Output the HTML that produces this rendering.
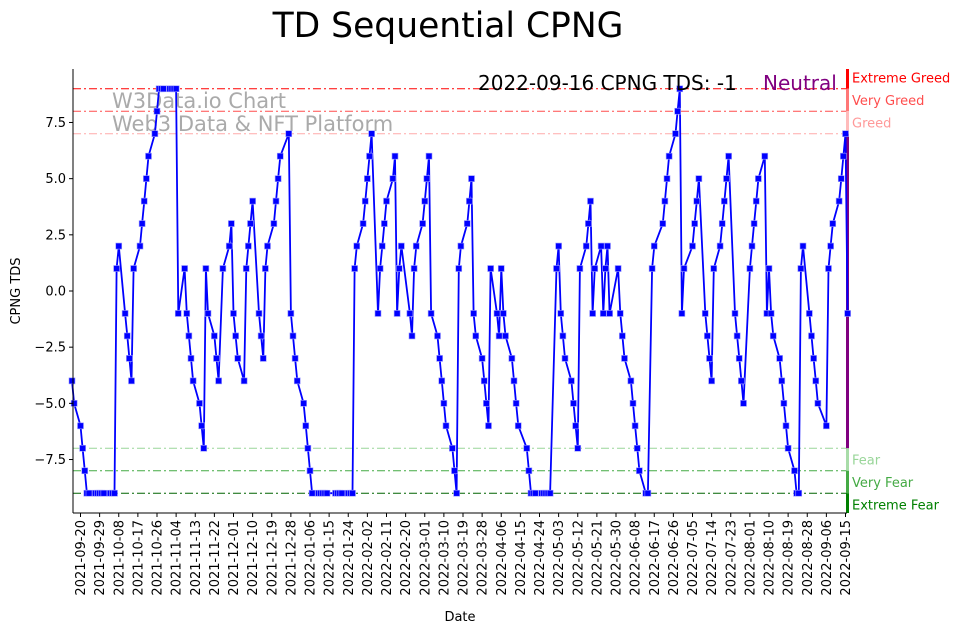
<!DOCTYPE html>
<html><head><meta charset="utf-8"><title>TD Sequential CPNG</title>
<style>
html,body{margin:0;padding:0;background:#fff;}
svg{display:block;font-family:"DejaVu Sans","Liberation Sans",sans-serif;}
</style></head>
<body>
<svg id="chart" width="967" height="633" viewBox="0 0 967 633" xmlns="http://www.w3.org/2000/svg">
<rect width="967" height="633" fill="#fff"/>
<text x="448" y="37" font-size="34.5" text-anchor="middle" fill="#000">TD Sequential CPNG</text>
<g id="grid"></g>
<text x="112" y="108" font-size="21" fill="#aaaaaa">W3Data.io Chart</text>
<text x="112" y="131" font-size="21" fill="#aaaaaa">Web3 Data &amp; NFT Platform</text>
<g id="series"></g>
<g id="axes"></g>
<text x="478" y="90" font-size="20" fill="#000">2022-09-16 CPNG TDS: -1</text>
<text x="763" y="90" font-size="20" fill="#800080">Neutral</text>
<text x="20" y="291" font-size="13" text-anchor="middle" transform="rotate(-90 20 291)">CPNG TDS</text>
<text x="460" y="621" font-size="13" text-anchor="middle">Date</text>
</svg>
<script>
// day offsets since 2021-09-20
const days = [-4,-3,0,1,2,3,4,7,8,9,10,11,14,15,16,17,18,
21,22,23,24,25,28,29,30,31,32,35,36,37,38,39,42,43,44,45,46,
49,50,51,52,53,56,57,58,59,60,63,64,65,67,70,71,72,73,74,
77,78,79,80,81,84,85,86,87,88,91,92,93,94,98,99,100,101,102,
105,106,107,108,109,112,113,114,115,116,120,121,122,123,126,127,128,129,130,
133,134,135,136,137,140,141,142,143,144,147,148,149,150,151,155,156,157,158,
161,162,163,164,165,168,169,170,171,172,175,176,177,178,179,182,183,184,185,186,
189,190,191,192,193,196,197,198,199,200,203,204,205,206,210,211,212,213,214,
217,218,219,220,221,224,225,226,227,228,231,232,233,234,235,238,239,240,241,242,
245,246,247,248,249,253,254,255,256,259,260,261,262,263,266,267,269,270,
274,275,276,277,280,281,282,283,284,288,289,290,291,294,295,296,297,298,
301,302,303,304,305,308,309,310,311,312,315,316,317,318,319,322,323,324,325,326,
329,330,331,332,333,336,337,338,339,340,343,344,345,346,347,351,352,353,354,
357,358,359,360,361];
const tdsValues = [-4,-5,-6,-7,-8,-9,-9,-9,-9,-9,-9,-9,-9,-9,-9,1,2,
-1,-2,-3,-4,1,2,3,4,5,6,7,8,9,9,9,9,9,9,9,-1,
1,-1,-2,-3,-4,-5,-6,-7,1,-1,-2,-3,-4,1,2,3,-1,-2,-3,
-4,1,2,3,4,-1,-2,-3,1,2,3,4,5,6,7,-1,-2,-3,-4,
-5,-6,-7,-8,-9,-9,-9,-9,-9,-9,-9,-9,-9,-9,-9,-9,-9,1,2,
3,4,5,6,7,-1,1,2,3,4,5,6,-1,1,2,-1,-2,1,2,
3,4,5,6,-1,-2,-3,-4,-5,-6,-7,-8,-9,1,2,3,4,5,-1,-2,
-3,-4,-5,-6,1,-1,-2,1,-1,-2,-3,-4,-5,-6,-7,-8,-9,-9,-9,
-9,-9,-9,-9,-9,1,2,-1,-2,-3,-4,-5,-6,-7,1,2,3,4,-1,1,
2,-1,1,2,-1,1,-1,-2,-3,-4,-5,-6,-7,-8,-9,-9,1,2,
3,4,5,6,7,8,9,-1,1,2,3,4,5,-1,-2,-3,-4,1,
2,3,4,5,6,-1,-2,-3,-4,-5,1,2,3,4,5,6,-1,1,-1,-2,
-3,-4,-5,-6,-7,-8,-9,-9,1,2,-1,-2,-3,-4,-5,-6,1,2,3,
4,5,6,7,-1];
const xTickLabels = ["2021-09-20","2021-09-29","2021-10-08","2021-10-17","2021-10-26","2021-11-04","2021-11-13","2021-11-22","2021-12-01","2021-12-10","2021-12-19","2021-12-28","2022-01-06","2022-01-15","2022-01-24","2022-02-02","2022-02-11","2022-02-20","2022-03-01","2022-03-10","2022-03-19","2022-03-28","2022-04-06","2022-04-15","2022-04-24","2022-05-03","2022-05-12","2022-05-21","2022-05-30","2022-06-08","2022-06-17","2022-06-26","2022-07-05","2022-07-14","2022-07-23","2022-08-01","2022-08-10","2022-08-19","2022-08-28","2022-09-06","2022-09-15"];
const yTickValues = [7.5,5,2.5,0,-2.5,-5,-7.5];
const yTickLabels = ["7.5","5.0","2.5","0.0","\u22122.5","\u22125.0","\u22127.5"];
const thresholdValues = [9,8,7,-7,-8,-9];
const thresholdNames = ["Extreme Greed","Very Greed","Greed","Fear","Very Fear","Extreme Fear"];

const NS="http://www.w3.org/2000/svg";
const X0=73,X1=847,Y0=69,Y1=513;
function xs(d){return 80.5+d*2.125;}
function ys(v){return 291-v*22.47;}
function mk(tag,attrs,parent){const e=document.createElementNS(NS,tag);for(const k in attrs)e.setAttribute(k,attrs[k]);parent.appendChild(e);return e;}

const grid=document.getElementById('grid');
const lineCols=["#ff0000","#ff4d4d","#ffaaaa","#99d699","#44aa44","#006400"];
const textCols=["#ff0000","#ff4d4d","#ff9999","#99d699","#44aa44","#008000"];
thresholdValues.forEach((v,i)=>{
  const l=mk('line',{x1:X0,x2:X1,y1:ys(v),y2:ys(v),stroke:lineCols[i],'stroke-width':1,'stroke-dasharray':'8,3,2,3'},grid);
  
  
});
const bandEdges=[10,9,8,7,-7,-8,-9,-10];
const bandCols=["#ff0000","#ff7777","#ffbbbb","#800080","#a8dca8","#44aa44","#008000"];
for(let i=0;i<7;i++){
  const ya=Math.max(Y0,ys(bandEdges[i])),yb=Math.min(Y1,ys(bandEdges[i+1]));
  const r=mk('rect',{x:846,y:ya,width:3,height:yb-ya,fill:bandCols[i]},grid);
  
  
}
const labelY=[9.5,8.5,7.5,-7.5,-8.5,-9.5];
thresholdNames.forEach((n,i)=>{
  const t=mk('text',{x:852,y:ys(labelY[i])+5,'font-size':13,fill:textCols[i]},grid);
  t.textContent=n;
  
  
});

const series=document.getElementById('series');
const pts=days.map((d,i)=>xs(d).toFixed(1)+','+ys(tdsValues[i]).toFixed(1)).join(' ');
const pl=mk('polyline',{points:pts,fill:'none',stroke:'#0000ff','stroke-width':1.8,'stroke-linejoin':'round'},series);


days.forEach((d,i)=>{
  const r=mk('rect',{x:xs(d)-3,y:ys(tdsValues[i])-3,width:6,height:6,fill:'#0000ff',stroke:'#9999ff','stroke-width':0.6},series);
  
  
});

const axes=document.getElementById('axes');
const la=mk('line',{x1:X0,x2:X0,y1:Y0,y2:Y1,stroke:'#000','stroke-width':1},axes);


const lb=mk('line',{x1:X0,x2:X1,y1:Y1,y2:Y1,stroke:'#000','stroke-width':1},axes);


yTickValues.forEach((v,i)=>{
  const y=ys(v);
  const tk=mk('line',{x1:X0-4,x2:X0,y1:y,y2:y,stroke:'#000'},axes);
  
  
  const t=mk('text',{x:X0-7,y:y+4.5,'font-size':13,'text-anchor':'end'},axes);
  t.textContent=yTickLabels[i];
  
  
});
xTickLabels.forEach((s,i)=>{
  const x=xs(i*9);
  const tk=mk('line',{x1:x,x2:x,y1:Y1,y2:Y1+4,stroke:'#000'},axes);
  
  
  const t=mk('text',{x:x+4.5,y:Y1+7,'font-size':13,'text-anchor':'end',transform:'rotate(-90 '+(x+4.5)+' '+(Y1+7)+')'},axes);
  t.textContent=s;
  
  
});
</script>
</body></html>
